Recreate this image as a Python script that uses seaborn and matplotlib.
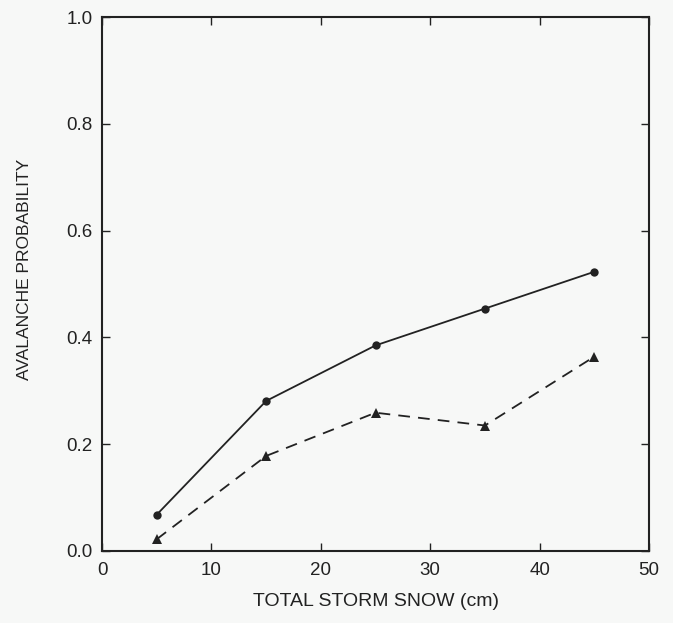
import matplotlib
matplotlib.use("Agg")
import matplotlib.pyplot as plt
import seaborn as sns
import pandas as pd

snow = [5, 15, 25, 35, 45]
prob_circles = [0.068, 0.281, 0.385, 0.454, 0.523]
prob_triangles = [0.022, 0.178, 0.259, 0.235, 0.364]
x_ticks = [0, 10, 20, 30, 40, 50]
y_ticks = [0.0, 0.2, 0.4, 0.6, 0.8, 1.0]

sns.set_theme(style="ticks")
plt.rcParams['font.family'] = ['Liberation Sans', 'DejaVu Sans']

ink = "#222222"
bg = "#f7f8f7"
fig = plt.figure(figsize=(6.73, 6.23), dpi=100, facecolor=bg)
ax = fig.add_axes([0.1516, 0.1156, 0.8128, 0.857])
ax.set_facecolor(bg)

df1 = pd.DataFrame({"x": snow, "y": prob_circles})
df2 = pd.DataFrame({"x": snow, "y": prob_triangles})
sns.lineplot(data=df1, x="x", y="y", ax=ax, color=ink, lw=1.3,
             marker="o", markersize=6, markeredgewidth=0, estimator=None)
sns.lineplot(data=df2, x="x", y="y", ax=ax, color=ink, lw=1.3,
             linestyle=(0, (6.5, 4.5)), marker="^", markersize=6.5,
             markeredgewidth=0, estimator=None)

ax.set_xlim(0, 50)
ax.set_ylim(0, 1.0)
ax.set_xticks(x_ticks)
ax.set_yticks(y_ticks)
ax.set_xticklabels([str(t) for t in x_ticks])
ax.set_yticklabels([f"{t:.1f}" for t in y_ticks])
ax.tick_params(direction="in", length=6, width=1.0, top=True, right=True,
               labelsize=13.5, colors=ink)
ax.tick_params(axis="x", pad=8)
ax.tick_params(axis="y", pad=7)
for s in ax.spines.values():
    s.set_linewidth(1.5)
    s.set_color(ink)
ax.set_xlabel("TOTAL STORM SNOW (cm)", fontsize=14, color=ink)
ax.set_ylabel("AVALANCHE PROBABILITY", fontsize=12.5, color=ink)
ax.xaxis.set_label_coords(0.5, -0.0955)
ax.xaxis.label.set_va("center")
ax.yaxis.set_label_coords(-0.1426, 0.528)
ax.yaxis.label.set_va("center")

fig.savefig("out.png", dpi=100, facecolor=bg)
